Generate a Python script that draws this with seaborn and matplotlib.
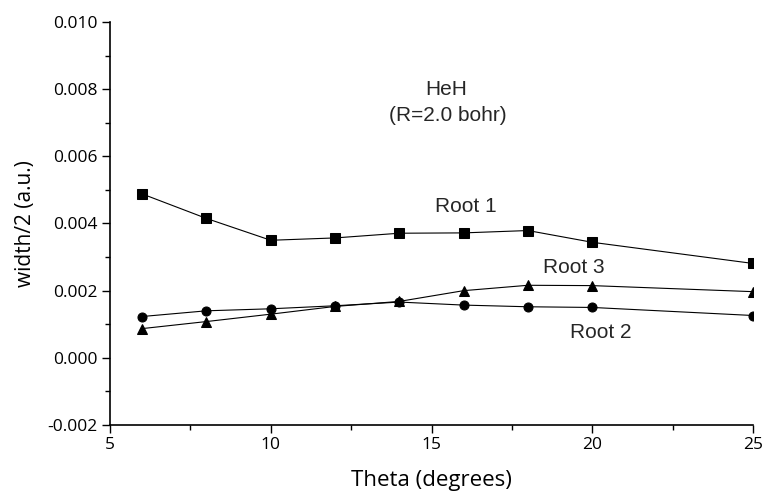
import matplotlib
matplotlib.use("Agg")
import matplotlib.pyplot as plt
import seaborn as sns
import pandas as pd
from matplotlib.ticker import MultipleLocator, FormatStrFormatter

theta = [6, 8, 10, 12, 14, 16, 18, 20, 25]
root1 = [0.00488, 0.00415, 0.00350, 0.00357, 0.00371, 0.00372, 0.00379, 0.00344, 0.00281]
root2 = [0.00123, 0.00140, 0.00146, 0.00155, 0.00166, 0.00157, 0.00152, 0.00150, 0.00126]
root3 = [0.00087, 0.00108, 0.00130, 0.00153, 0.00168, 0.00200, 0.00216, 0.00215, 0.00197]

sns.set_theme(style="ticks")
plt.rcParams['font.family'] = ['Open Sans', 'DejaVu Sans']

df = pd.concat([
    pd.DataFrame({"theta": theta, "width": root1, "series": "Root 1"}),
    pd.DataFrame({"theta": theta, "width": root2, "series": "Root 2"}),
    pd.DataFrame({"theta": theta, "width": root3, "series": "Root 3"}),
])

fig = plt.figure(figsize=(7.63, 4.94), dpi=100)
ax = fig.add_axes([0.1442, 0.1397, 0.8427, 0.8158])

sns.lineplot(data=df, x="theta", y="width", hue="series", style="series",
             palette={"Root 1": "black", "Root 2": "black", "Root 3": "black"},
             markers={"Root 1": "s", "Root 2": "o", "Root 3": "^"},
             dashes=False, markersize=6.5, linewidth=0.8, legend=False, ax=ax,
             markeredgecolor="black")

ax.set_xlim(5, 25)
ax.set_ylim(-0.002, 0.010)
ax.xaxis.set_major_locator(MultipleLocator(5))
ax.xaxis.set_minor_locator(MultipleLocator(2.5))
ax.yaxis.set_major_locator(MultipleLocator(0.002))
ax.yaxis.set_minor_locator(MultipleLocator(0.001))
ax.yaxis.set_major_formatter(FormatStrFormatter('%.3f'))
ax.tick_params(which="major", direction="out", length=6, width=1, labelsize=12.5,
               color="black", labelcolor="black", pad=3)
ax.tick_params(which="minor", direction="out", length=3.5, width=1, color="black")
for s in ["top", "right"]:
    ax.spines[s].set_visible(False)
for s in ["left", "bottom"]:
    ax.spines[s].set_color("black")
    ax.spines[s].set_linewidth(1.2)

ax.set_xlabel("Theta (degrees)", fontsize=16, labelpad=12, color="black")
ax.set_ylabel("width/2 (a.u.)", fontsize=15, labelpad=8, color="black")

tf = ['Liberation Sans', 'DejaVu Sans']
ax.text(15.45, 0.00798, "HeH", ha="center", va="center", fontsize=15, family=tf)
ax.text(15.5, 0.00721, "(R=2.0 bohr)", ha="center", va="center", fontsize=15, family=tf)
ax.text(16.07, 0.00450, "Root 1", ha="center", va="center", fontsize=15, family=tf)
ax.text(19.43, 0.00269, "Root 3", ha="center", va="center", fontsize=15, family=tf)
ax.text(20.27, 0.00075, "Root 2", ha="center", va="center", fontsize=15, family=tf)

fig.savefig("out.png", dpi=100)
